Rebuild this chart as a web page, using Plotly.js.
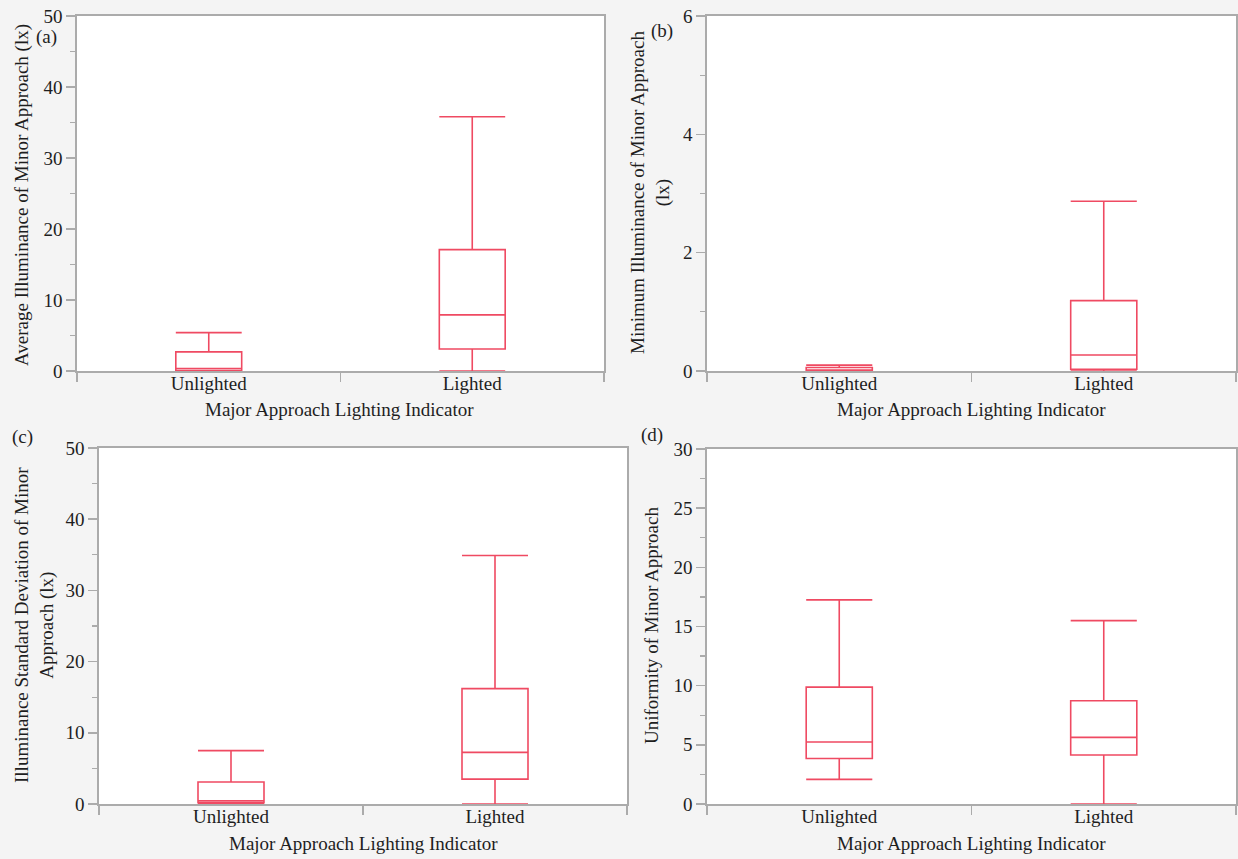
<!DOCTYPE html>
<html>
<head>
<meta charset="utf-8">
<script src="https://cdn.plot.ly/plotly-3.0.1.min.js"></script>
<style>html,body{margin:0;padding:0;background:#f4f4f4;}#chart{width:1238px;height:859px;}</style>
</head>
<body>
<div id="chart"></div>
<script>
// Categories
const categories = ["Unlighted", "Lighted"];

// (a) Average illuminance of minor approach (lx)
const avgMin    = [0, 0];
const avgQ1     = [0.07, 3.1];
const avgMedian = [0.35, 7.9];
const avgQ3     = [2.7, 17.1];
const avgMax    = [5.4, 35.8];

// (b) Minimum illuminance of minor approach (lx)
const minMin    = [0, 0];
const minQ1     = [0.0, 0.03];
const minMedian = [0.01, 0.27];
const minQ3     = [0.06, 1.19];
const minMax    = [0.1, 2.87];

// (c) Illuminance standard deviation of minor approach (lx)
const sdMin    = [0, 0];
const sdQ1     = [0.2, 3.5];
const sdMedian = [0.45, 7.25];
const sdQ3     = [3.1, 16.2];
const sdMax    = [7.5, 34.9];

// (d) Uniformity of minor approach
const uniMin    = [2.08, 0];
const uniQ1     = [3.85, 4.14];
const uniMedian = [5.24, 5.63];
const uniQ3     = [9.88, 8.72];
const uniMax    = [17.25, 15.5];

const W = 1238, H = 859;
const RED = "#ef4a62";
const AX = "#ababab";
const FONT = "Liberation Serif";
const TXT = "#1e1e1e";

function box(xa, ya, lo, q1, med, q3, hi) {
  return {
    type: "box", xaxis: xa, yaxis: ya,
    x: categories, lowerfence: lo, q1: q1, median: med, q3: q3, upperfence: hi,
    boxpoints: false, width: 0.25, whiskerwidth: 1,
    line: {color: RED, width: 1.6}, fillcolor: "rgba(0,0,0,0)",
    showlegend: false, hoverinfo: "skip"
  };
}

const data = [
  box("x", "y", avgMin, avgQ1, avgMedian, avgQ3, avgMax),
  box("x2", "y2", minMin, minQ1, minMedian, minQ3, minMax),
  box("x3", "y3", sdMin, sdQ1, sdMedian, sdQ3, sdMax),
  box("x4", "y4", uniMin, uniQ1, uniMedian, uniQ3, uniMax)
];

function px(x) { return x / W; }
function py(y) { return 1 - y / H; }

function xaxis(l, r, anchor) {
  return {
    domain: [px(l), px(r)], anchor: anchor, type: "category",
    range: [-0.5, 1.5], tickson: "boundaries",
    ticks: "outside", ticklen: 9, tickwidth: 1.5, tickcolor: AX,
    ticklabelstandoff: -6,
    showline: true, linecolor: AX, linewidth: 1.8, mirror: true,
    layer: "above traces",
    showgrid: false, zeroline: false, fixedrange: true,
    tickfont: {family: FONT, size: 19, color: TXT}
  };
}
function yaxis(t, b, anchor, maxv, dt, mdt) {
  return {
    domain: [py(b), py(t)], anchor: anchor, range: [0, maxv],
    tickmode: "linear", tick0: 0, dtick: dt,
    ticks: "outside", ticklen: 9, tickwidth: 1.5, tickcolor: AX,
    minor: {ticks: "outside", ticklen: 5, tickwidth: 1.2, tickcolor: AX, dtick: mdt, tick0: 0, showgrid: false},
    showline: true, linecolor: AX, linewidth: 1.8, mirror: true,
    layer: "above traces",
    showgrid: false, zeroline: false, fixedrange: true,
    tickfont: {family: FONT, size: 19, color: TXT}
  };
}

function ann(text, x, y, angle) {
  return {
    text: text, xref: "paper", yref: "paper", x: px(x), y: py(y),
    xanchor: "center", yanchor: "middle", showarrow: false,
    textangle: angle || 0, font: {family: FONT, size: 19, color: TXT}
  };
}

const layout = {
  width: W, height: H,
  margin: {l: 0, r: 0, t: 0, b: 0},
  paper_bgcolor: "#f4f4f4", plot_bgcolor: "#ffffff",
  showlegend: false,
  xaxis: xaxis(77, 604, "y"),
  yaxis: yaxis(16, 371, "x", 50, 10, 5),
  xaxis2: xaxis(707, 1236, "y2"),
  yaxis2: yaxis(16, 371, "x2", 6, 2, 1),
  xaxis3: xaxis(99, 627, "y3"),
  yaxis3: yaxis(448, 804, "x3", 50, 10, 5),
  xaxis4: xaxis(707, 1236, "y4"),
  yaxis4: yaxis(449, 804, "x4", 30, 5, 2.5),
  annotations: [
    ann("Major Approach Lighting Indicator", 340, 409),
    ann("Major Approach Lighting Indicator", 971, 409),
    ann("Major Approach Lighting Indicator", 363, 843),
    ann("Major Approach Lighting Indicator", 971, 843),
    ann("Average Illuminance of Minor Approach (lx)", 22, 195, -90),
    ann("Minimum Illuminance of Minor Approach<br>(lx)", 651, 193, -90),
    ann("Illuminance Standard Deviation of Minor<br>Approach (lx)", 34, 625, -90),
    ann("Uniformity of Minor Approach", 651, 626, -90),
    ann("(a)", 46, 37),
    ann("(b)", 662, 31),
    ann("(c)", 22, 437),
    ann("(d)", 652, 435)
  ]
};

Plotly.newPlot("chart", data, layout, {staticPlot: true, displayModeBar: false});
</script>
</body>
</html>
